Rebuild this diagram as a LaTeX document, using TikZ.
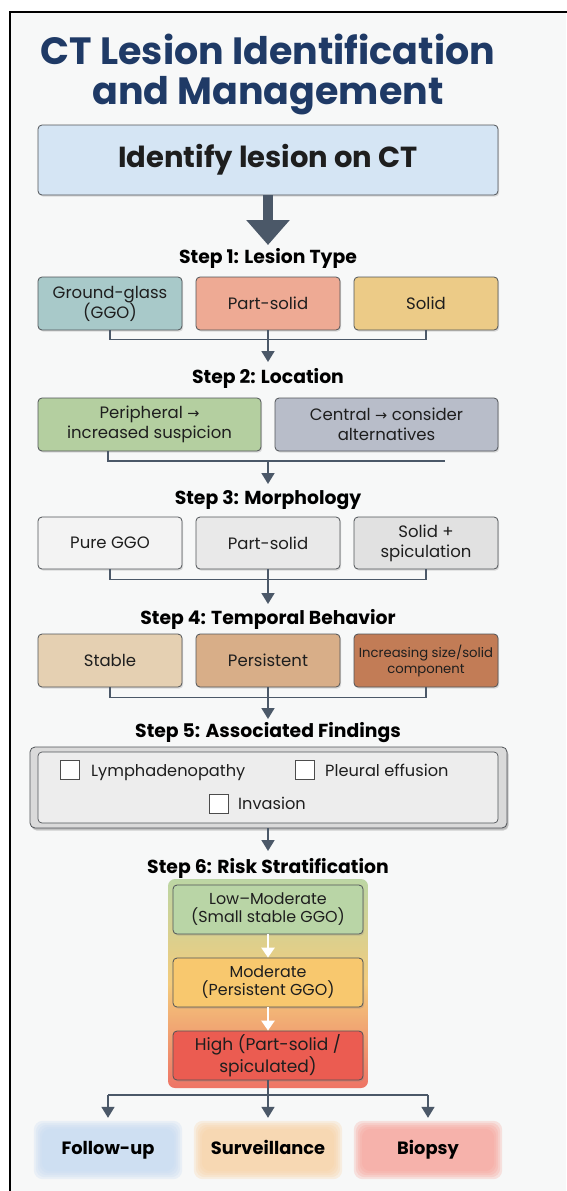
\documentclass[tikz,border=0pt]{standalone}
\usepackage{fontspec}
\setmainfont{Poppins}
\newfontfamily\dejavu{DejaVu Sans}
\usetikzlibrary{shadows,arrows.meta}
\definecolor{bgc}{HTML}{F7F8F8}
\definecolor{navy}{HTML}{1F3A66}
\definecolor{bordc}{HTML}{505458}
\definecolor{arrc}{HTML}{4B5868}
\definecolor{txt}{HTML}{1E1E1E}
\definecolor{idblue}{HTML}{D5E5F4}
\definecolor{cggo}{HTML}{A8C9C9}
\definecolor{cpart}{HTML}{EEAA94}
\definecolor{csolid}{HTML}{ECCB87}
\definecolor{cperi}{HTML}{B4CFA0}
\definecolor{ccent}{HTML}{B8BDC9}
\definecolor{cm1}{HTML}{F3F3F3}
\definecolor{cm2}{HTML}{E9E9E9}
\definecolor{cm3}{HTML}{E1E1E1}
\definecolor{ct1}{HTML}{E5D0B2}
\definecolor{ct2}{HTML}{D8AE88}
\definecolor{ct3}{HTML}{C27C56}
\definecolor{cfo}{HTML}{DADADA}
\definecolor{cfi}{HTML}{EDEDED}
\definecolor{rlow}{HTML}{B9D5A6}
\definecolor{rmod}{HTML}{F8C86E}
\definecolor{rhigh}{HTML}{EB5C51}
\definecolor{gtop}{HTML}{BCD6A4}
\definecolor{gmid}{HTML}{F3CB7C}
\definecolor{gbot}{HTML}{EE7466}
\definecolor{ofu}{HTML}{C6DAF2}
\definecolor{osu}{HTML}{FAD2A4}
\definecolor{obi}{HTML}{F6A39A}
\pgfdeclarelayer{bgzero}
\pgfdeclarelayer{bgone}
\pgfsetlayers{bgzero,bgone,main}
\newcommand\boxfont{\fontsize{16.5}{20}\selectfont}
\tikzset{
  box/.style={draw=bordc, line width=0.8pt, rounded corners=4pt, align=center,
    font=\boxfont, text=txt, inner sep=1pt,
    drop shadow={opacity=0.25, shadow xshift=1.2pt, shadow yshift=-1.6pt}},
  steplab/.style={font=\bfseries\fontsize{18.8}{22}\selectfont, text=black},
  conn/.style={draw=arrc, line width=1.8pt},
  arr/.style={conn, -{Triangle[width=13pt,length=11pt]}},
  warr/.style={draw=white, line width=2.5pt, -{Triangle[width=13pt,length=10pt]}},
  chk/.style={draw=gray!60!black, fill=white, line width=0.7pt, minimum size=19pt, inner sep=0pt},
  chktext/.style={anchor=base west, font=\fontsize{16.2}{20}\selectfont, text=txt, inner sep=0pt},
  outcome/.style={font=\bfseries\fontsize{17.8}{20}\selectfont, text=black, minimum width=136pt, minimum height=46pt, inner sep=0pt, text height=13pt, text depth=4pt},
}
\begin{document}
\begin{tikzpicture}[x=1pt,y=-1pt]
\useasboundingbox (0,0) rectangle (566,1191);
\begin{pgfonlayer}{bgzero}
\fill[white] (0,0) rectangle (566,1191);
\fill[bgc] (10,12) rectangle (566,1191);
\draw[line width=1.6pt] (10,1195) -- (10,12) -- (570,12);
\end{pgfonlayer}

% title
\node[font=\bfseries\fontsize{38}{40}\selectfont, text=navy, align=center] (title) at (268,75) {CT Lesion Identification\\and Management};

% identify
\node[box, fill=idblue, minimum width=460pt, minimum height=70pt, font=\bfseries\fontsize{29}{32}\selectfont] (id) at (268,160) {Identify lesion on CT};
\coordinate (a1) at (268,245);
\draw[draw=arrc, line width=10pt, -{Triangle[width=42pt,length=25pt]}] (id.south) -- (a1);

% step 1
\node[steplab] (s1) at (268,258) {Step 1: Lesion Type};
\node[box, fill=cggo, minimum width=144pt, minimum height=53pt] (t1) at (110,303.5) {Ground-glass\\(GGO)};
\node[box, fill=cpart, minimum width=144pt, minimum height=53pt] (t2) at (268,303.5) {Part-solid};
\node[box, fill=csolid, minimum width=144pt, minimum height=53pt] (t3) at (426,303.5) {Solid};
\draw[conn] (t1.south) -- ++(0,9) -| (t3.south);
\coordinate (a2) at (268,362);
\draw[arr] (t2.south) -- (a2);

% step 2
\node[steplab] (s2) at (268,378) {Step 2: Location};
\node[box, fill=cperi, minimum width=223pt, minimum height=53pt] (l1) at (149.5,424.5) {Peripheral {\dejavu\fontsize{14.5}{20}\selectfont →}\\increased suspicion};
\node[box, fill=ccent, minimum width=223pt, minimum height=53pt] (l2) at (386.5,424.5) {Central {\dejavu\fontsize{14.5}{20}\selectfont →} consider\\alternatives};
\coordinate (j2) at (268,461);
\draw[conn] ([xshift=70pt]l1.south west) |- ([xshift=-53pt]l2.south east |- j2);
\coordinate (a3) at (268,484);
\draw[arr] (j2) -- (a3);

% step 3
\node[steplab] (s3) at (268,500) {Step 3: Morphology};
\node[box, fill=cm1, minimum width=144pt, minimum height=52pt] (m1) at (110,543) {Pure GGO};
\node[box, fill=cm2, minimum width=144pt, minimum height=52pt] (m2) at (268,543) {Part-solid};
\node[box, fill=cm3, minimum width=144pt, minimum height=52pt] (m3) at (426,543) {Solid +\\spiculation};
\draw[conn] (m1.south) -- ++(0,10) -| (m3.south);
\coordinate (a4) at (268,604);
\draw[arr] (m2.south) -- (a4);

% step 4
\node[steplab] (s4) at (268,619) {Step 4: Temporal Behavior};
\node[box, fill=ct1, minimum width=144pt, minimum height=53pt] (b1) at (110,660.5) {Stable};
\node[box, fill=ct2, minimum width=144pt, minimum height=53pt] (b2) at (268,660.5) {Persistent};
\node[box, fill=ct3, minimum width=144pt, minimum height=53pt, font=\fontsize{13.2}{16}\selectfont] (b3) at (426,660.5) {Increasing size/solid\\component};
\draw[conn] (b1.south) -- ++(0,10) -| (b3.south);
\coordinate (a5) at (268,719);
\draw[arr] (b2.south) -- (a5);

% step 5
\node[steplab] (s5) at (268,733) {Step 5: Associated Findings};
\node[box, fill=cfo, minimum width=477pt, minimum height=81pt, rounded corners=5pt,
  drop shadow={opacity=0.35, shadow xshift=1.5pt, shadow yshift=-2.5pt}] (f5) at (268.5,787.5) {};
\node[draw=bordc, line width=0.7pt, fill=cfi, rounded corners=4pt, minimum width=460pt, minimum height=71pt] (f5i) at (268,787.5) {};
\node[chk] (c1) at (70,770) {};
\node[chktext] (c1t) at (91,776) {Lymphadenopathy};
\node[chk] (c2) at (305,770) {};
\node[chktext] (c2t) at (325,776) {Pleural effusion};
\node[chk] (c3) at (218.5,803.5) {};
\node[chktext] (c3t) at (238,809.5) {Invasion};
\coordinate (a6) at (268,851);
\draw[arr] (f5.south -| a6) -- (a6);

% step 6
\node[steplab] (s6) at (268,868) {Step 6: Risk Stratification};
\shade[rounded corners=7pt, top color=gtop, bottom color=gbot, middle color=gmid] (168,879) rectangle (368,1088);
\node[box, fill=rlow, minimum width=190pt, minimum height=49pt, font=\fontsize{15.9}{18}\selectfont] (r1) at (268,909.5) {Low–Moderate\\(Small stable GGO)};
\node[box, fill=rmod, minimum width=190pt, minimum height=49pt, font=\fontsize{15.9}{18}\selectfont] (r2) at (268,982.5) {Moderate\\(Persistent GGO)};
\node[box, fill=rhigh, minimum width=190pt, minimum height=49pt, font=\fontsize{17}{20}\selectfont] (r3) at (268,1055.5) {High (Part-solid /\\spiculated)};
\draw[warr] (r1.south) -- (r2.north);
\draw[warr] (r2.south) -- (r3.north);

% outcomes
\node[outcome] (o1) at (108,1150) {Follow-up};
\node[outcome] (o2) at (268,1150) {Surveillance};
\node[outcome] (o3) at (428,1150) {Biopsy};
\coordinate (j7) at (268,1095);
\draw[conn] (r3.south) -- (j7);
\draw[conn] (o1.north |- j7) -- (o3.north |- j7);
\draw[arr] (o1.north |- j7) -- ([yshift=9pt]o1.north);
\draw[arr] (j7) -- ([yshift=9pt]o2.north);
\draw[arr] (o3.north |- j7) -- ([yshift=9pt]o3.north);
\begin{pgfonlayer}{bgone}
\foreach \n/\c in {o1/ofu,o2/osu,o3/obi}{
  \foreach \i in {6,4,2,0,-2}{
    \fill[\c, opacity=0.28, rounded corners=9pt] ([shift={(-\i,-\i)}]\n.north west) rectangle ([shift={(\i,\i)}]\n.south east);
  }
}
\end{pgfonlayer}
\end{tikzpicture}
\end{document}
